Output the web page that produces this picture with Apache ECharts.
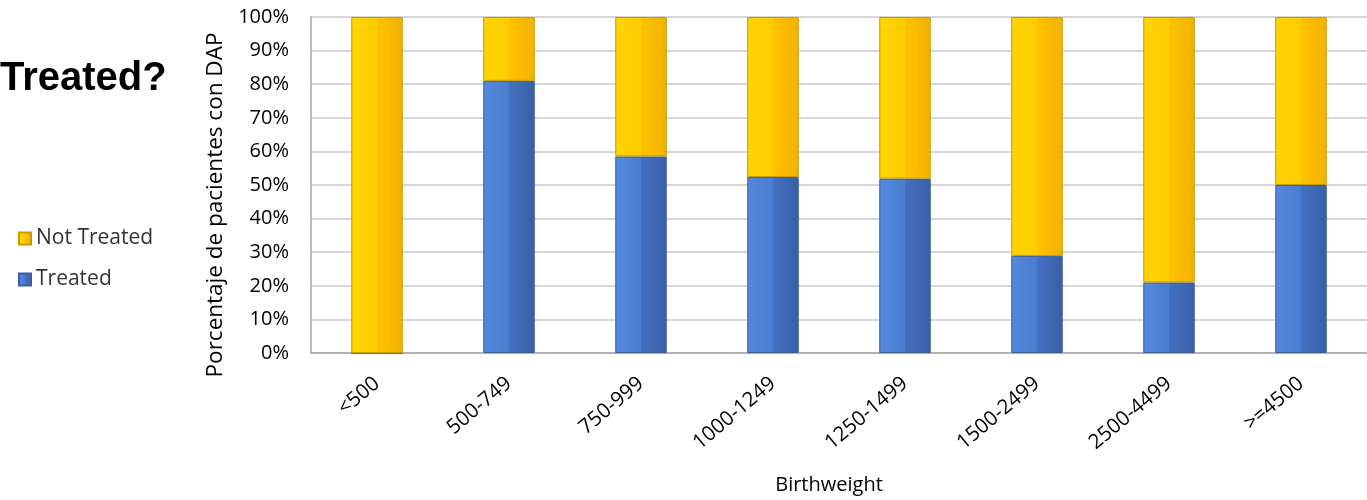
<!DOCTYPE html>
<html>
<head>
<meta charset="utf-8">
<script src="https://cdn.jsdelivr.net/npm/echarts@6/dist/echarts.min.js"></script>
<style>html,body{margin:0;padding:0;background:#fff}#c{width:1367px;height:500px}</style>
</head>
<body>
<div id="c"></div>
<script>
const categories = ['<500','500-749','750-999','1000-1249','1250-1499','1500-2499','2500-4499','>=4500'];
const treated = [0, 81, 58.5, 52.4, 51.9, 28.9, 21.0, 50.0];
const notTreated = [100, 19, 41.5, 47.6, 48.1, 71.1, 79.0, 50.0];
const yTicks = [0,10,20,30,40,50,60,70,80,90,100];

const FONT = 'Open Sans';
const blueGrad = new echarts.graphic.LinearGradient(0,0,1,0,[
  {offset:0,color:'#5489DD'},{offset:0.5,color:'#4A7CCF'},{offset:0.51,color:'#4470C0'},{offset:1,color:'#3960A8'}]);
const yellowGrad = new echarts.graphic.LinearGradient(0,0,1,0,[
  {offset:0,color:'#FFD400'},{offset:0.5,color:'#FFCC00'},{offset:0.51,color:'#FFC200'},{offset:1,color:'#F2B200'}]);

const chart = echarts.init(document.getElementById('c'));
chart.setOption({
  animation:false,
  title:{text:'Treated?',left:-5,top:54,textStyle:{fontFamily:'Liberation Sans',fontSize:40,fontWeight:'bold',color:'#000'}},
  legend:{
    orient:'vertical',left:13,top:223,itemWidth:12,itemHeight:12,itemGap:20,icon:'rect',
    data:['Not Treated','Treated'],
    textStyle:{fontFamily:FONT,fontSize:21,color:'#333'}
  },
  grid:{left:311,top:17,width:1067,height:337,containLabel:false},
  xAxis:{
    type:'category',data:categories,
    name:'Birthweight',nameLocation:'middle',nameGap:122,
    nameTextStyle:{fontFamily:FONT,fontSize:20,color:'#000',padding:[0,20,0,0]},
    axisLine:{lineStyle:{color:'#A6A6A6',width:1.5}},
    axisTick:{show:false},
    axisLabel:{rotate:40,margin:28,fontFamily:FONT,fontSize:20.5,color:'#000',interval:0}
  },
  yAxis:{
    type:'value',min:0,max:100,interval:10,
    name:'Porcentaje de pacientes con DAP',nameLocation:'middle',nameGap:84,
    nameTextStyle:{fontFamily:FONT,fontSize:22.5,color:'#000',padding:[0,0,0,-40]},
    axisLine:{show:true,lineStyle:{color:'#A6A6A6',width:1.5}},
    axisTick:{show:false},
    axisLabel:{margin:22,fontFamily:FONT,fontSize:20,color:'#000',formatter:v=>yTicks.includes(v)?v+'%':''},
    splitLine:{lineStyle:{color:'#C8C8C8',width:1.5}}
  },
  series:[
    {name:'Treated',type:'bar',stack:'s',data:treated,barWidth:'39%',
     itemStyle:{color:blueGrad,borderColor:'#3A5E9C',borderWidth:1}},
    {name:'Not Treated',type:'bar',stack:'s',data:notTreated,barWidth:'39%',
     itemStyle:{color:yellowGrad,borderColor:'#C79A00',borderWidth:1}}
  ]
});
</script>
</body>
</html>
